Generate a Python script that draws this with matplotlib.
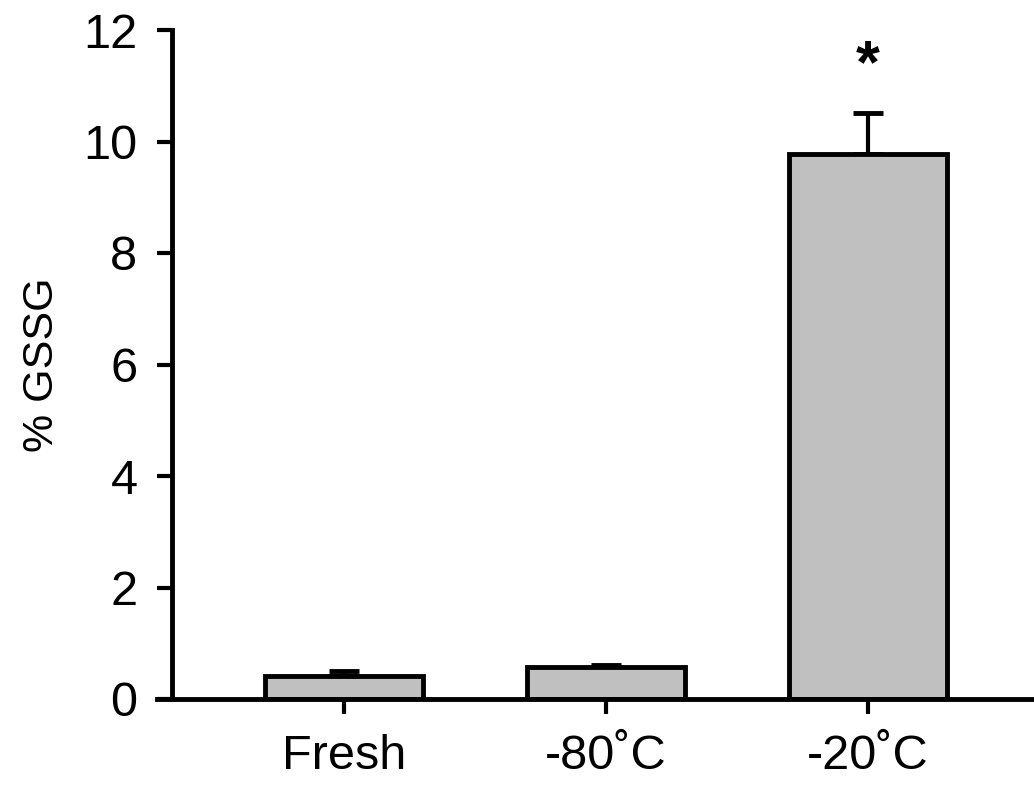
import matplotlib
matplotlib.use("Agg")
import matplotlib.pyplot as plt

categories = ["Fresh", "-80˚C", "-20˚C"]
means = [0.42, 0.57, 9.77]
errors = [0.08, 0.04, 0.75]
yticks = [0, 2, 4, 6, 8, 10, 12]
ylabel = "% GSSG"

plt.rcParams['font.family'] = ['Liberation Sans', 'DejaVu Sans']

fig = plt.figure(figsize=(10.34, 7.88), dpi=100)
ax = fig.add_axes([157/1034, (788-699)/788, 1 - 157/1034, (699-30)/788])

x = list(range(len(categories)))
lw = 3.5
ax.bar(x, means, width=0.6, color='#c0c0c0', edgecolor='black', linewidth=lw, zorder=2)
ax.errorbar(x, means, yerr=[[0]*len(errors), errors], fmt='none', ecolor='black',
            elinewidth=3.0, capsize=10.8, capthick=3.5, zorder=1)

ax.text(2, 11.35, "*", ha='center', va='center', fontsize=44, fontweight='bold', clip_on=False)

ax.set_xlim(-0.714, 2.634)
ax.set_ylim(0, 12)
ax.spines['top'].set_visible(False)
ax.spines['right'].set_visible(False)
ax.spines['left'].set_position(('data', -0.656))
ax.spines['left'].set_bounds(0, 12)
for s in ['left', 'bottom']:
    ax.spines[s].set_linewidth(lw)

ax.set_xticks(x)
ax.set_xticklabels(categories)
ax.set_yticks(yticks)
ax.set_yticklabels([str(t) for t in yticks])
ax.tick_params(axis='both', length=11, width=3.0, labelsize=35, direction='out')
ax.tick_params(axis='x', pad=14)
ax.tick_params(axis='y', pad=14)

ax.set_ylabel(ylabel, fontsize=31)
ax.yaxis.set_label_coords(-0.108, 0.5)

fig.savefig("out.png", dpi=100)
